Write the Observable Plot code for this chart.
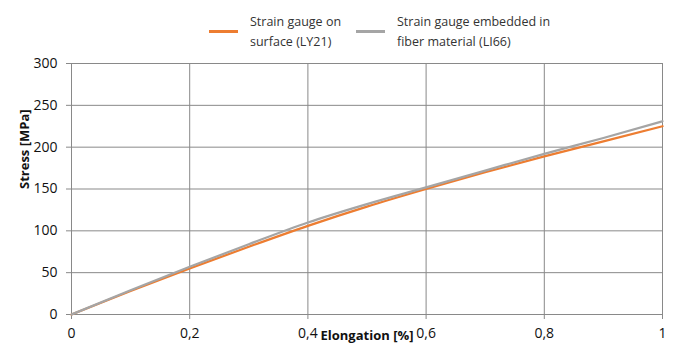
<!DOCTYPE html>
<html><head><meta charset="utf-8">
<script src="https://cdn.jsdelivr.net/npm/d3@7"></script>
<script src="https://cdn.jsdelivr.net/npm/@observablehq/plot@0.6"></script>
<style>
body{margin:0;background:#fff;font-family:"Open Sans",sans-serif;}
#wrap{position:relative;width:684px;height:361px;}
.leg{position:absolute;font-size:12.5px;line-height:20px;color:#333;}
.sw{position:absolute;height:3px;width:29px;}
</style></head><body>
<div id="wrap"></div>
<script>
const elongation = [0, 0.1, 0.2, 0.3, 0.4, 0.5, 0.6, 0.7, 0.8, 0.9, 1.0];
const stressSurface = [0, 28, 55, 81, 106, 129, 150, 170, 189, 207, 225];
const stressEmbedded = [0, 29, 57, 84, 110, 132, 152, 172, 192, 211, 231];
const seriesNames = ["Strain gauge on surface (LY21)", "Strain gauge embedded in fiber material (LI66)"];
const xTicks = [0, 0.2, 0.4, 0.6, 0.8, 1];
const yTicks = [0, 50, 100, 150, 200, 250, 300];
const colors = ["#ED7D31", "#A5A5A5"];

const rows = [];
elongation.forEach((e, i) => {
  rows.push({x: e, y: stressSurface[i], s: seriesNames[0]});
  rows.push({x: e, y: stressEmbedded[i], s: seriesNames[1]});
});
const grid = "#898989";
const fmt = d => String(d).replace(".", ",");
const plot = Plot.plot({
  width: 684, height: 361,
  marginLeft: 71, marginRight: 22, marginTop: 63, marginBottom: 47,
  style: {fontFamily: "Open Sans, sans-serif", fontSize: "14px", color: "#111", background: "#fff"},
  x: {domain: [0, 1], ticks: xTicks, tickFormat: fmt, label: null},
  y: {domain: [0, 300], ticks: yTicks, label: null},
  color: {domain: seriesNames, range: colors},
  marks: [
    Plot.gridX(xTicks, {stroke: grid, strokeOpacity: 1, strokeWidth: 1}),
    Plot.gridY(yTicks, {stroke: grid, strokeOpacity: 1, strokeWidth: 1}),
    Plot.axisX(xTicks, {tickFormat: fmt, tickSize: 5, stroke: grid, tickPadding: 9, fontSize: 14, label: null}),
    Plot.axisY(yTicks, {tickSize: 5, stroke: grid, tickPadding: 9, fontSize: 14, label: null}),
    Plot.line(rows, {x: "x", y: "y", stroke: "s", strokeWidth: 2.25, curve: "monotone-x"}),
    Plot.text(["Elongation [%]"], {frameAnchor: "bottom", dy: 25, fontWeight: "bold", fontSize: 13, fill: "#111"}),
    Plot.text(["Stress [MPa]"], {frameAnchor: "left", dx: -47, rotate: -90, fontWeight: "bold", fontSize: 13, fill: "#111"})
  ]
});
const wrap = document.getElementById("wrap");
wrap.appendChild(plot);
const legItems = [
  {x: 209, tx: 250, lines: ["Strain gauge on", "surface (LY21)"]},
  {x: 356, tx: 397, lines: ["Strain gauge embedded in", "fiber material (LI66)"]}
];
legItems.forEach((it, i) => {
  const sw = document.createElement("div");
  sw.className = "sw"; sw.style.left = it.x + "px"; sw.style.top = "30px"; sw.style.background = colors[i];
  wrap.appendChild(sw);
  const t = document.createElement("div");
  t.className = "leg"; t.style.left = it.tx + "px"; t.style.top = "12px";
  t.innerHTML = it.lines.join("<br>");
  wrap.appendChild(t);
});
</script>
</body></html>
